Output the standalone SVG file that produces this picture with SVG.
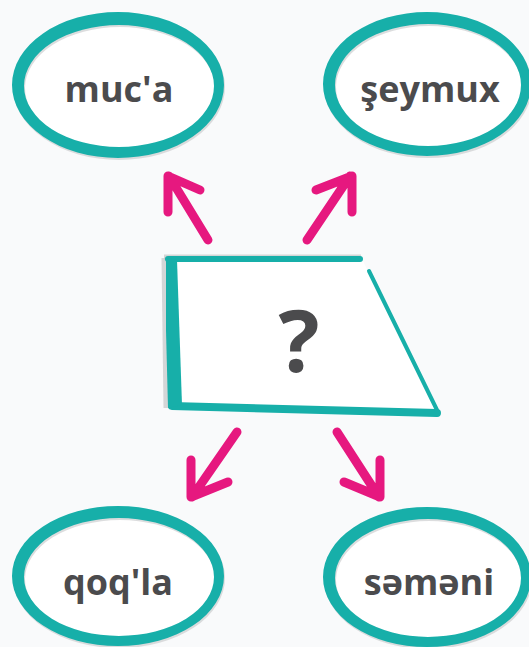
<svg xmlns="http://www.w3.org/2000/svg" width="529" height="647" viewBox="0 0 529 647">
<style>
.ring{fill:#17AFA9;fill-rule:evenodd}
.shadow{fill:#c4c6c8;fill-rule:evenodd;opacity:0.6}
.inner{fill:#ffffff}
.lbl{font-family:"Open Sans","Liberation Sans",sans-serif;font-weight:700;font-size:36px;fill:#4b4b4d;text-anchor:middle}
.arr{fill:none;stroke:#E6187F;stroke-width:9;stroke-linecap:round;stroke-linejoin:round}
.edge{stroke:#17AFA9;fill:none;stroke-linecap:round}
</style>
<rect width="529" height="647" fill="#f9fafb"/>
<g id="node-muca">
<ellipse class="inner" cx="119" cy="86" rx="95" ry="61"/>
<path class="shadow" d="M13,87 a106,73 0 1,0 212,0 a106,73 0 1,0 -212,0 Z M25,88 a95,61 0 1,0 190,0 a95,61 0 1,0 -190,0 Z"/>
<path class="ring" d="M12,85 a106,73 0 1,0 212,0 a106,73 0 1,0 -212,0 Z M24,86 a95,61 0 1,0 190,0 a95,61 0 1,0 -190,0 Z"/>
<text class="lbl" x="119" y="102">muc'a</text>
</g>
<g id="node-seymux">
<ellipse class="inner" cx="428" cy="85" rx="93" ry="61"/>
<path class="shadow" d="M324,86 a104,72 0 1,0 208,0 a104,72 0 1,0 -208,0 Z M336,87 a93,61 0 1,0 186,0 a93,61 0 1,0 -186,0 Z"/>
<path class="ring" d="M323,84 a104,72 0 1,0 208,0 a104,72 0 1,0 -208,0 Z M335,85 a93,61 0 1,0 186,0 a93,61 0 1,0 -186,0 Z"/>
<text class="lbl" x="430" y="102">şeymux</text>
</g>
<g id="node-center">
<polygon points="167,258 362,259 437,412 170,407" fill="#ffffff"/>
<path d="M164,257 L361,257" stroke="#c4c6c8" stroke-width="5" fill="none" opacity="0.7"/>
<path d="M164,258 L166,408" stroke="#c4c6c8" stroke-width="5" fill="none" opacity="0.7"/>
<line class="edge" x1="168" y1="259" x2="360" y2="259" stroke-width="6"/>
<line class="edge" x1="369" y1="271" x2="437" y2="410" stroke-width="4"/>
<line class="edge" x1="172" y1="406" x2="437" y2="413" stroke-width="8"/>
<path d="M166,258 L177,260 L182,405 L168,408 L166,330 Z" fill="#17AFA9"/>
<text x="299" y="372" font-family="'Open Sans','Liberation Sans',sans-serif" font-weight="700" font-size="86" fill="#4b4b4d" text-anchor="middle">?</text>
</g>
<g id="node-qoqla">
<ellipse class="inner" cx="119" cy="577" rx="95" ry="59"/>
<path class="shadow" d="M13,578 a106,70 0 1,0 212,0 a106,70 0 1,0 -212,0 Z M25,579 a95,59 0 1,0 190,0 a95,59 0 1,0 -190,0 Z"/>
<path class="ring" d="M12,576 a106,70 0 1,0 212,0 a106,70 0 1,0 -212,0 Z M24,577 a95,59 0 1,0 190,0 a95,59 0 1,0 -190,0 Z"/>
<text class="lbl" x="118" y="595">qoq'la</text>
</g>
<g id="node-semeni">
<ellipse class="inner" cx="428" cy="578" rx="93" ry="59"/>
<path class="shadow" d="M324,579 a104,70 0 1,0 208,0 a104,70 0 1,0 -208,0 Z M336,580 a93,59 0 1,0 186,0 a93,59 0 1,0 -186,0 Z"/>
<path class="ring" d="M323,577 a104,70 0 1,0 208,0 a104,70 0 1,0 -208,0 Z M335,578 a93,59 0 1,0 186,0 a93,59 0 1,0 -186,0 Z"/>
<text class="lbl" x="429" y="595">səməni</text>
</g>
<g id="connectors">
<path class="arr" d="M208,240 L169,176 M168,212 L168,176 L200,190"/>
<path class="arr" d="M307,240 L350,176 M352,212 L352,176 L316,190"/>
<path class="arr" d="M237,432 L192,497 M191,460 L191,497 L228,482"/>
<path class="arr" d="M337,432 L379,497 M380,460 L380,497 L344,482"/>
</g>
</svg>
